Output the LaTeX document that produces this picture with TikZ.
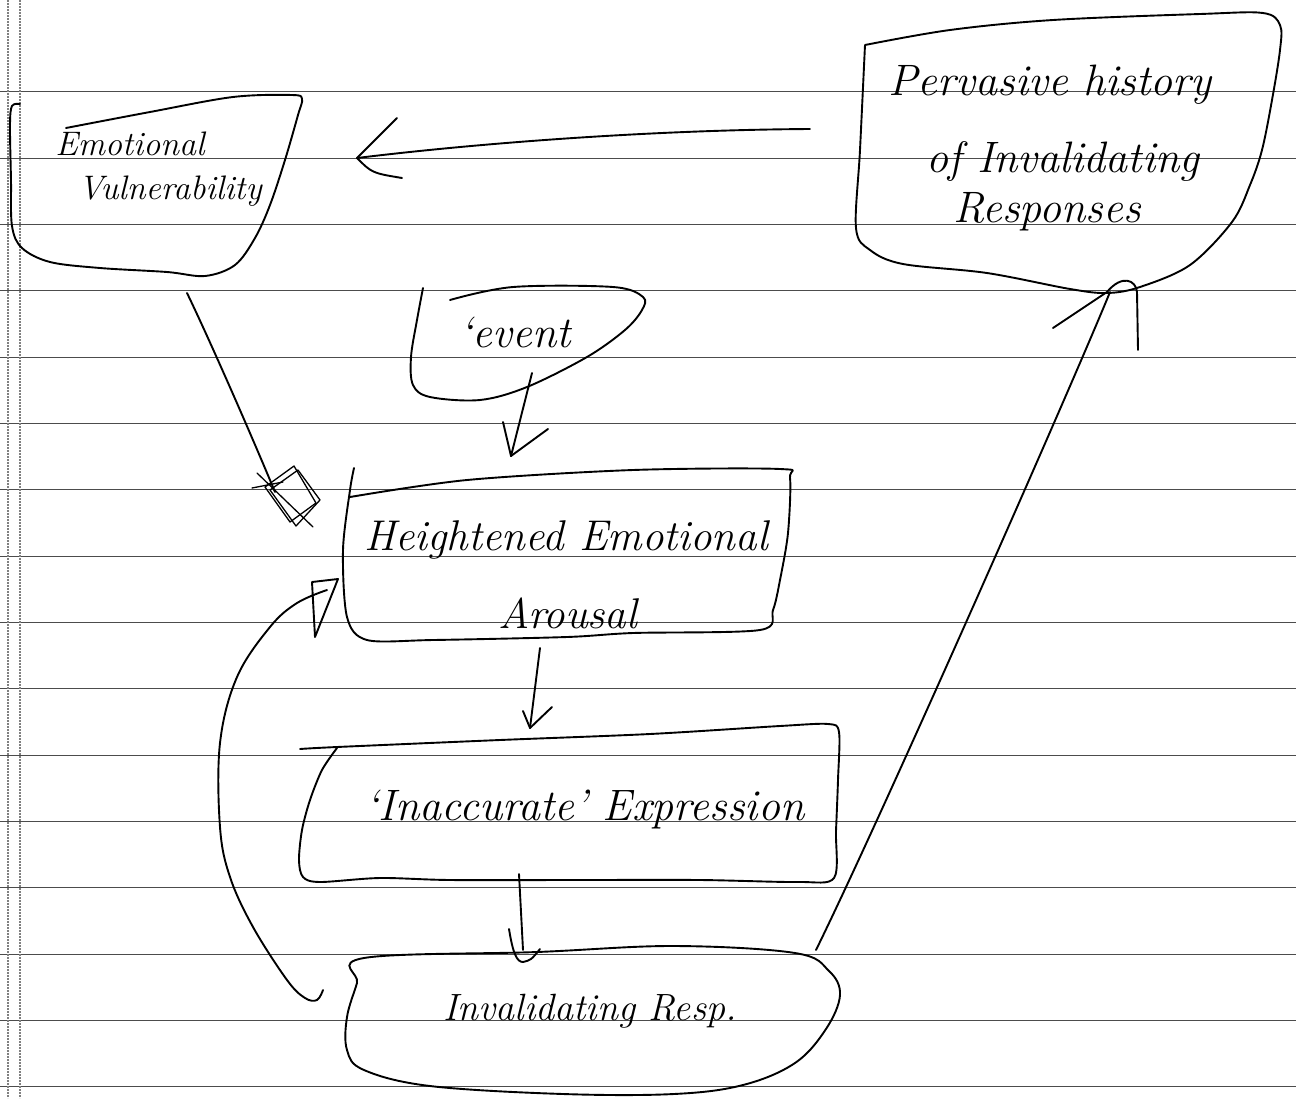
\documentclass[tikz,border=0pt]{standalone}
\usepackage{fontspec}
\usetikzlibrary{calc}
\begin{document}
\begin{tikzpicture}[x=1pt,y=-1pt,
  pen/.style={line width=1.9pt,line cap=round,line join=round},
  thinpen/.style={line width=1.3pt,line cap=round,line join=round},
  rule/.style={line width=1pt,black!70},
  margin/.style={line width=1.1pt,black!50,dash pattern=on 2pt off 1pt},
  hw/.style={inner sep=0pt,anchor=base},
  f34/.style={font=\fontsize{34}{40}\selectfont\itshape},
  f38/.style={font=\fontsize{38}{44}\selectfont\itshape},
  f43/.style={font=\fontsize{43}{50}\selectfont\itshape},
  f44/.style={font=\fontsize{44}{50}\selectfont\itshape}]
\useasboundingbox (0,0) rectangle (1296,1098);
\fill[white] (0,0) rectangle (1296,1098);

% ruled paper
\foreach \k in {0,...,15}
  \draw[rule] (0,{91.7+66.35*\k}) -- (1296,{91.7+66.35*\k});
\draw[margin] (8,0) -- (8,1098);
\draw[margin] (20,0) -- (20,1098);

% ---- Emotional Vulnerability box
\draw[pen] plot[smooth,tension=0.55] coordinates {(20,104) (12,106) (10,125) (11,180) (12,226) (22,248) (50,262) (100,268) (167,272) (205,276) (235,265) (255,238) (270,205) (285,160) (298,115) (302,99) (292,95) (233,97) (150,112) (66,128)};
\node[hw,f34] (ev1) at (130,155) {Emotional};
\node[hw,f34] (ev2) at (170,199) {Vulnerability};

% ---- Pervasive history box
\draw[pen] plot[smooth,tension=0.55] coordinates {(865,45) (950,30) (1053,20) (1200,14) (1263,13) (1280,25) (1280,50) (1272,100) (1262,150) (1250,185) (1232,222) (1190,265) (1140,287) (1107,293) (1070,289) (987,273) (903,264) (870,250) (856,228) (860,150) (865,45)};
\node[hw,f44] (ph1) at (1050,95) {Pervasive history};
\node[hw,f44] (ph2) at (1063,172) {of Invalidating};
\node[hw,f44] (ph3) at (1047,222) {Responses};

% ---- event
\draw[pen] plot[smooth,tension=0.55] coordinates {(423,288) (417,320) (411,357) (413,385) (430,397) (480,400) (527,387) (587,357) (625,330) (642,310) (643,297) (613,287) (513,287) (450,300)};
\node[hw,f44] (evt) at (515,347) {`event};

% ---- Heightened Emotional Arousal
\draw[pen] plot[smooth,tension=0.5] coordinates {(350,497) (467,480) (633,470) (780,469) (790,478) (788,533) (780,580) (773,610) (760,630) (633,633) (567,637) (433,640) (367,640) (347,617) (343,550) (350,490) (354,468)};
\node[hw,f43] (hea1) at (566,550) {Heightened Emotional};
\node[hw,f43] (hea2) at (568,628) {Arousal};

% ---- Inaccurate Expression
\draw[pen] plot[smooth,tension=0.5] coordinates {(300,749) (337,747) (500,740) (650,734) (780,726) (828,724) (839,732) (838,780) (836,831) (834,878) (798,882) (700,880) (576,880) (450,880) (380,878) (320,882) (303,877) (299,860) (302,830) (310,800) (322,770) (337,748)};
\node[hw,f44] (ina) at (585,820) {`Inaccurate' Expression};

% ---- Invalidating Resp.
\draw[pen] plot[smooth cycle,tension=0.6] coordinates {(364,958) (537,952) (674,946) (795,953) (829,971) (840,995) (826,1029) (795,1063) (743,1085) (674,1094) (563,1094) (430,1086) (364,1070) (347,1050) (347,1017) (357,983)};
\node[hw,f38] (inv) at (590,1020) {Invalidating Resp.};

% ---- connectors
\coordinate (ph-w) at (810,129);
\coordinate (ev-e) at (357,158);
\draw[pen] (ph-w) .. controls (650,130) and (480,143) .. (ev-e);
\draw[pen] (ev-e) .. controls +(18,-18) .. +(40,-40);
\draw[pen] (ev-e) .. controls +(15,15) .. +(45,20);

\coordinate (ev-s) at (187,293);
\coordinate (hea-w) at (275,492);
\draw[pen] (ev-s) .. controls (205,330) and (245,420) .. (hea-w);
\draw[thinpen] (270,490) -- (298,470) -- (320,500) -- (296,526) -- cycle;
\draw[thinpen] (265,487) -- (294,466) -- (316,503) -- (290,522) -- cycle;
\draw[thinpen] (257,473) -- (313,527);
\draw[thinpen] (252,488) -- (283,482);

\coordinate (evt-s) at (532,373);
\coordinate (hea-n) at (511,456);
\draw[pen] (evt-s) -- (hea-n);
\draw[pen] (hea-n) -- +(-8,-34);
\draw[pen] (hea-n) -- +(37,-27);

\coordinate (hea-s) at (540,648);
\coordinate (ina-n) at (530,728);
\draw[pen] (hea-s) -- (ina-n);
\draw[pen] (ina-n) -- +(-7,-17);
\draw[pen] (ina-n) -- +(22,-21);

\coordinate (ina-s) at (519,874);
\coordinate (inv-n) at (523,962);
\draw[pen] (ina-s) -- ([yshift=12pt]inv-n);
\draw[pen] ($(inv-n)+(-14,-33)$) .. controls ($(inv-n)+(-10,-8)$) and ($(inv-n)+(-6,0)$) .. (inv-n) .. controls ($(inv-n)+(8,-2)$) .. ($(inv-n)+(17,-13)$);

\coordinate (inv-w) at (323,990);
\coordinate (hea-sw) at (327,590);
\draw[pen] plot[smooth,tension=0.6] coordinates {(inv-w) (317,1000) (305,998) (287,980) (253,927) (230,877) (220,827) (220,743) (237,677) (270,627) (297,603) (hea-sw)};
\draw[pen] ($(hea-sw)+(-15,-8)$) -- ($(hea-sw)+(11,-11)$) -- ($(hea-sw)+(-12,47)$) -- cycle;

\coordinate (inv-ne) at (816,950);
\coordinate (ph-s) at (1110,292);
\draw[pen] (inv-ne) .. controls (880,820) and (1070,390) .. (ph-s);
\draw[pen] ($(ph-s)+(-57,36)$) -- ($(ph-s)+(-3,0)$) .. controls ($(ph-s)+(12,-18)$) and ($(ph-s)+(26,-12)$) .. ($(ph-s)+(27,0)$) -- ($(ph-s)+(28,58)$);
\end{tikzpicture}
\end{document}
